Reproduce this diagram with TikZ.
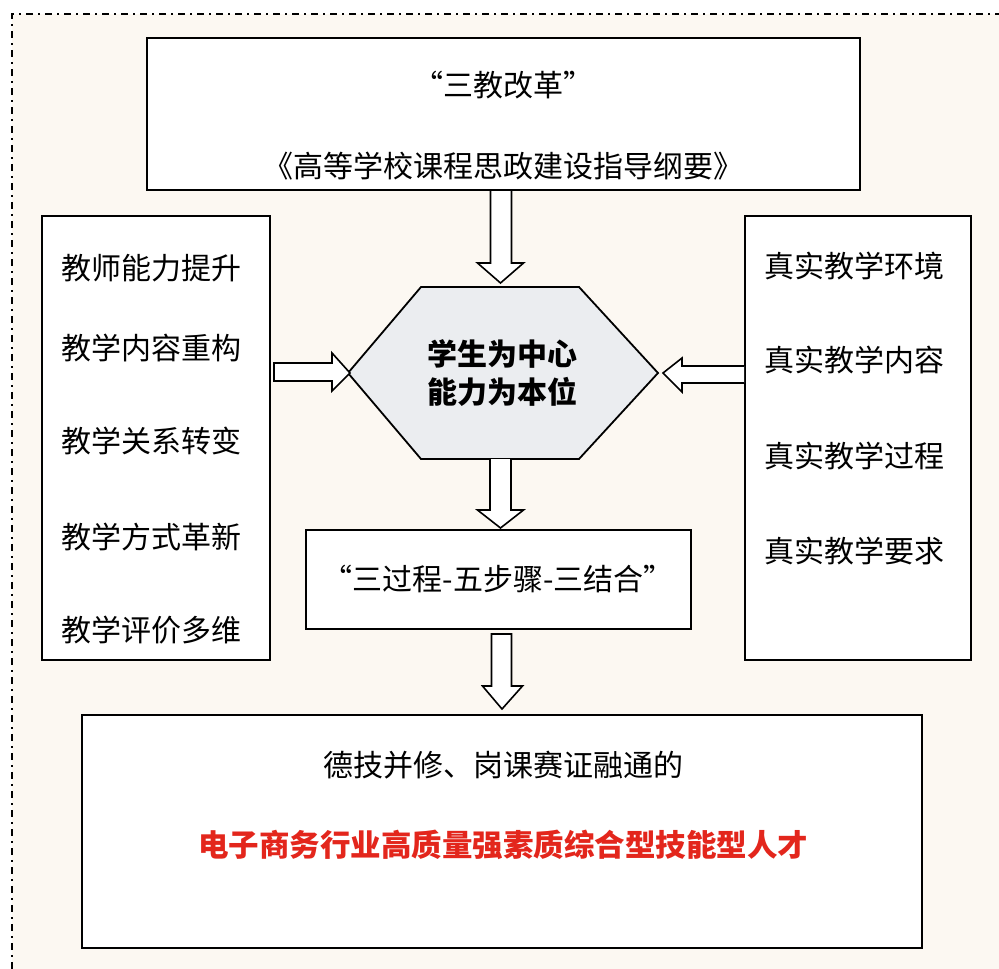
\documentclass[tikz,border=0pt]{standalone}
\usepackage{fontspec}
\setmainfont{Noto Sans CJK SC}
\usetikzlibrary{calc}
\definecolor{paper}{HTML}{FCF8F2}
\definecolor{hexfill}{HTML}{EBEDF0}
\definecolor{redtxt}{HTML}{E3261C}
\tikzset{
  box/.style={draw=black, line width=2pt, fill=white, rectangle, inner sep=0pt},
  txt/.style={font=\fontsize{30}{36}\selectfont, inner sep=0pt},
  barrow/.style={draw=black, line width=1.6pt, fill=white, line join=miter},
}
\begin{document}
\begin{tikzpicture}[x=1pt,y=-1pt]
\useasboundingbox (0,0) rectangle (999,969);
\fill[white] (0,0) rectangle (999,969);
\fill[paper] (12,14) rectangle (999,969);
\draw[line width=2.2pt, dash pattern=on 7pt off 5pt on 2pt off 5pt] (12,969) -- (12,14) -- (999,14);

% boxes
\node[box, minimum width=713pt, minimum height=152pt] (top) at (503.5,114) {};
\node[txt] (t1) at (503,85) {“三教改革”};
\node[txt] (t2) at (503,166) {《高等学校课程思政建设指导纲要》};

\node[box, minimum width=228pt, minimum height=444pt] (left) at (156,438) {};
\node[txt, anchor=west] (l1) at (61,268) {教师能力提升};
\node[txt, anchor=west] (l2) at (61,348) {教学内容重构};
\node[txt, anchor=west] (l3) at (61,441) {教学关系转变};
\node[txt, anchor=west] (l4) at (61,537) {教学方式革新};
\node[txt, anchor=west] (l5) at (61,630) {教学评价多维};

\node[box, minimum width=226pt, minimum height=444pt] (right) at (858,438) {};
\node[txt, anchor=west] (r1) at (764,266) {真实教学环境};
\node[txt, anchor=west] (r2) at (764,360) {真实教学内容};
\node[txt, anchor=west] (r3) at (764,456) {真实教学过程};
\node[txt, anchor=west] (r4) at (764,551) {真实教学要求};

% hexagon
\coordinate (hW) at (348,373);
\coordinate (hE) at (658,373);
\draw[line width=1.8pt, fill=hexfill, line join=miter] (hW) -- (421,287) -- (579,287) -- (hE) -- (579,459) -- (421,459) -- cycle;
\node[txt, font=\fontsize{30}{38}\selectfont\bfseries, align=center] (hex) at (502,373) {学生为中心\\能力为本位};
\coordinate (hN) at (500.5,287);
\coordinate (hS) at (500.5,459);

\node[box, minimum width=385pt, minimum height=99pt] (mid) at (498.5,579.5) {};
\node[txt] (m1) at (498,579) {“三过程-五步骤-三结合”};

\node[box, minimum width=840pt, minimum height=233pt] (bot) at (502,831.5) {};
\node[txt] (b1) at (503,765) {德技并修、岗课赛证融通的};
\node[txt, text=redtxt, font=\fontsize{30.5}{36}\selectfont\bfseries] (b2) at (503,845) {电子商务行业高质量强素质综合型技能型人才};

% block arrows
% top -> hexagon
\draw[barrow] ($(top.south)+(-13,0)$) -- ($(top.south)+(-13,72)$) -- ($(top.south)+(-26,72)$)
  -- ($(hN)+(0,-4)$) -- ($(top.south)+(20,72)$) -- ($(top.south)+(8,72)$) -- ($(top.south)+(8,0)$);
% left -> hexagon
\draw[barrow] ($(left.east)+(3,-75)$) -- ($(left.east)+(61,-75)$) -- ($(left.east)+(61,-85)$)
  -- ($(hW)+(2,0)$) -- ($(left.east)+(61,-47)$) -- ($(left.east)+(61,-57)$) -- ($(left.east)+(3,-57)$) -- cycle;
% right -> hexagon
\draw[barrow] ($(right.west)+(0,-72)$) -- ($(right.west)+(-62,-72)$) -- ($(right.west)+(-62,-80)$)
  -- ($(hE)+(5,0)$) -- ($(right.west)+(-62,-46)$) -- ($(right.west)+(-62,-55)$) -- ($(right.west)+(0,-55)$);
% hexagon -> mid
\draw[barrow] ($(hS)+(-10.5,0)$) -- ($(hS)+(-10.5,51)$) -- ($(hS)+(-23,51)$)
  -- ($(mid.north)+(2,-1)$) -- ($(hS)+(23,51)$) -- ($(hS)+(10.5,51)$) -- ($(hS)+(10.5,0)$);
% mid -> bottom
\draw[barrow] ($(mid.south)+(-7,4)$) -- ($(mid.south)+(-7,56)$) -- ($(mid.south)+(-16,56)$)
  -- ($(bot.north)+(0,-5)$) -- ($(mid.south)+(24,56)$) -- ($(mid.south)+(13,56)$) -- ($(mid.south)+(13,4)$) -- cycle;
\end{tikzpicture}
\end{document}
